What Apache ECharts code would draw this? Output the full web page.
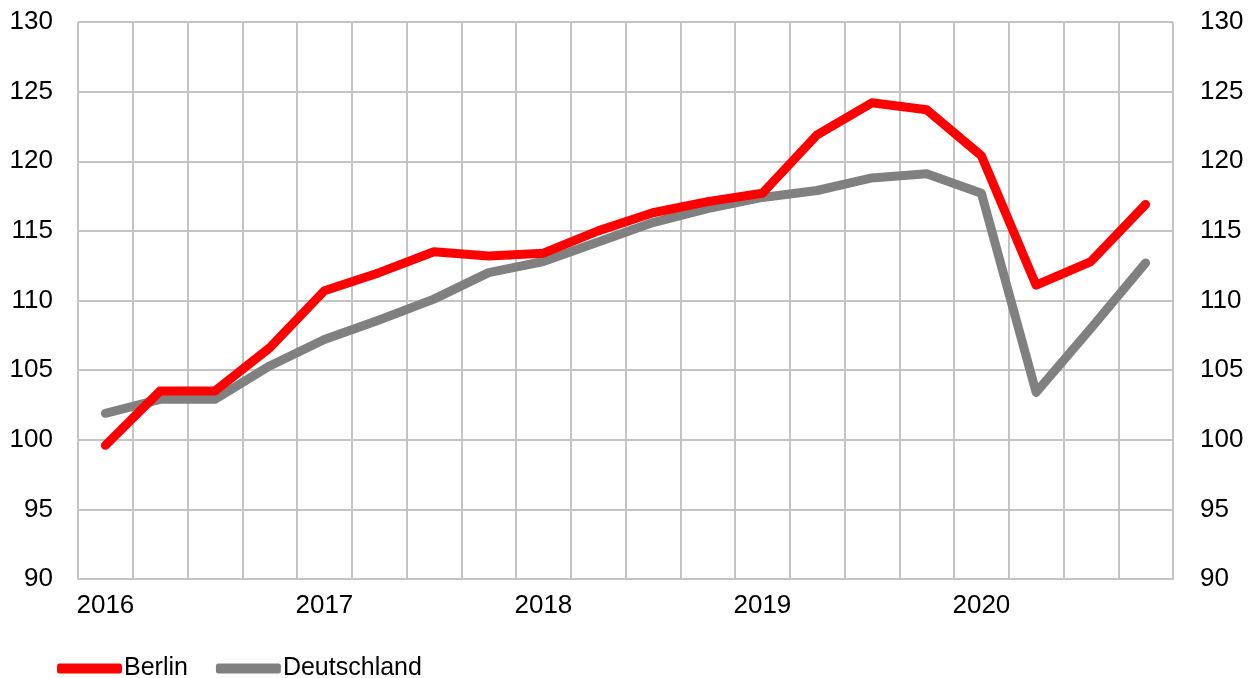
<!DOCTYPE html>
<html>
<head>
<meta charset="utf-8">
<script src="https://cdn.jsdelivr.net/npm/echarts@6/dist/echarts.min.js"></script>
<style>
  html, body { margin: 0; padding: 0; background: #fff; }
  #chart { width: 1255px; height: 678px; }
</style>
</head>
<body>
<div id="chart"></div>
<script>
// Quartale 2016 Q1 bis 2020 Q4
const quarters = [
  "2016-Q1", "2016-Q2", "2016-Q3", "2016-Q4",
  "2017-Q1", "2017-Q2", "2017-Q3", "2017-Q4",
  "2018-Q1", "2018-Q2", "2018-Q3", "2018-Q4",
  "2019-Q1", "2019-Q2", "2019-Q3", "2019-Q4",
  "2020-Q1", "2020-Q2", "2020-Q3", "2020-Q4",
];
const berlin = [
  99.6, 103.5, 103.5, 106.6,
  110.7, 112.0, 113.5, 113.2,
  113.4, 115.0, 116.3, 117.1,
  117.7, 121.9, 124.2, 123.7,
  120.4, 111.1, 112.8, 116.9,
];
const deutschland = [
  101.9, 102.9, 102.9, 105.3,
  107.2, 108.6, 110.1, 112.0,
  112.8, 114.2, 115.6, 116.6,
  117.4, 117.9, 118.8, 119.1,
  117.7, 103.4, 108.0, 112.7,
];

var chartDom = document.getElementById("chart");
var myChart = echarts.init(chartDom);
const font = "Liberation Sans, Arial, sans-serif";
const gridColor = "#c4c4c4";

// gemeinsame Y-Achse, links und rechts beschriftet
const yAxisBase = {
  type: "value",
  min: 90,
  max: 130,
  interval: 5,
  axisLine: { show: false },
  axisTick: { show: false },
  splitLine: { show: true, lineStyle: { color: gridColor, width: 2 } },
  axisLabel: { color: "#000", fontSize: 26, fontFamily: font },
};

var option = {
  animation: false,
  grid: { left: 78, right: 82, top: 22, bottom: 99 },
  legend: {
    left: 52,
    top: 651,
    icon: "roundRect",
    itemWidth: 65,
    itemHeight: 10,
    itemGap: 28,
    textStyle: { color: "#000", fontSize: 25, fontFamily: font, padding: [0, 0, 0, -3] },
    data: ["Berlin", "Deutschland"],
  },
  xAxis: {
    type: "category",
    data: quarters,
    boundaryGap: true,
    axisLine: { show: true, lineStyle: { color: gridColor, width: 2 } },
    axisTick: { show: false },
    splitLine: { show: true, interval: 0, lineStyle: { color: gridColor, width: 2 } },
    axisLabel: {
      interval: 3,
      margin: 14,
      color: "#000",
      fontSize: 26,
      fontFamily: font,
      formatter: v => v.slice(0, 4),
    },
  },
  yAxis: [
    Object.assign({}, yAxisBase, { position: "left", axisLabel: Object.assign({}, yAxisBase.axisLabel, { margin: 25 }) }),
    Object.assign({}, yAxisBase, {
      position: "right",
      splitLine: { show: false },
      axisLabel: Object.assign({}, yAxisBase.axisLabel, { margin: 27 }),
    }),
  ],
  series: [
    {
      name: "Berlin",
      type: "line",
      data: berlin,
      symbol: "none",
      itemStyle: { color: "#ff0000" },
      lineStyle: { color: "#ff0000", width: 9, cap: "round", join: "round" },
      z: 3,
    },
    {
      name: "Deutschland",
      type: "line",
      data: deutschland,
      symbol: "none",
      itemStyle: { color: "#808080" },
      lineStyle: { color: "#808080", width: 9, cap: "round", join: "round" },
      z: 2,
    },
  ],
};
option && myChart.setOption(option);
</script>
</body>
</html>
